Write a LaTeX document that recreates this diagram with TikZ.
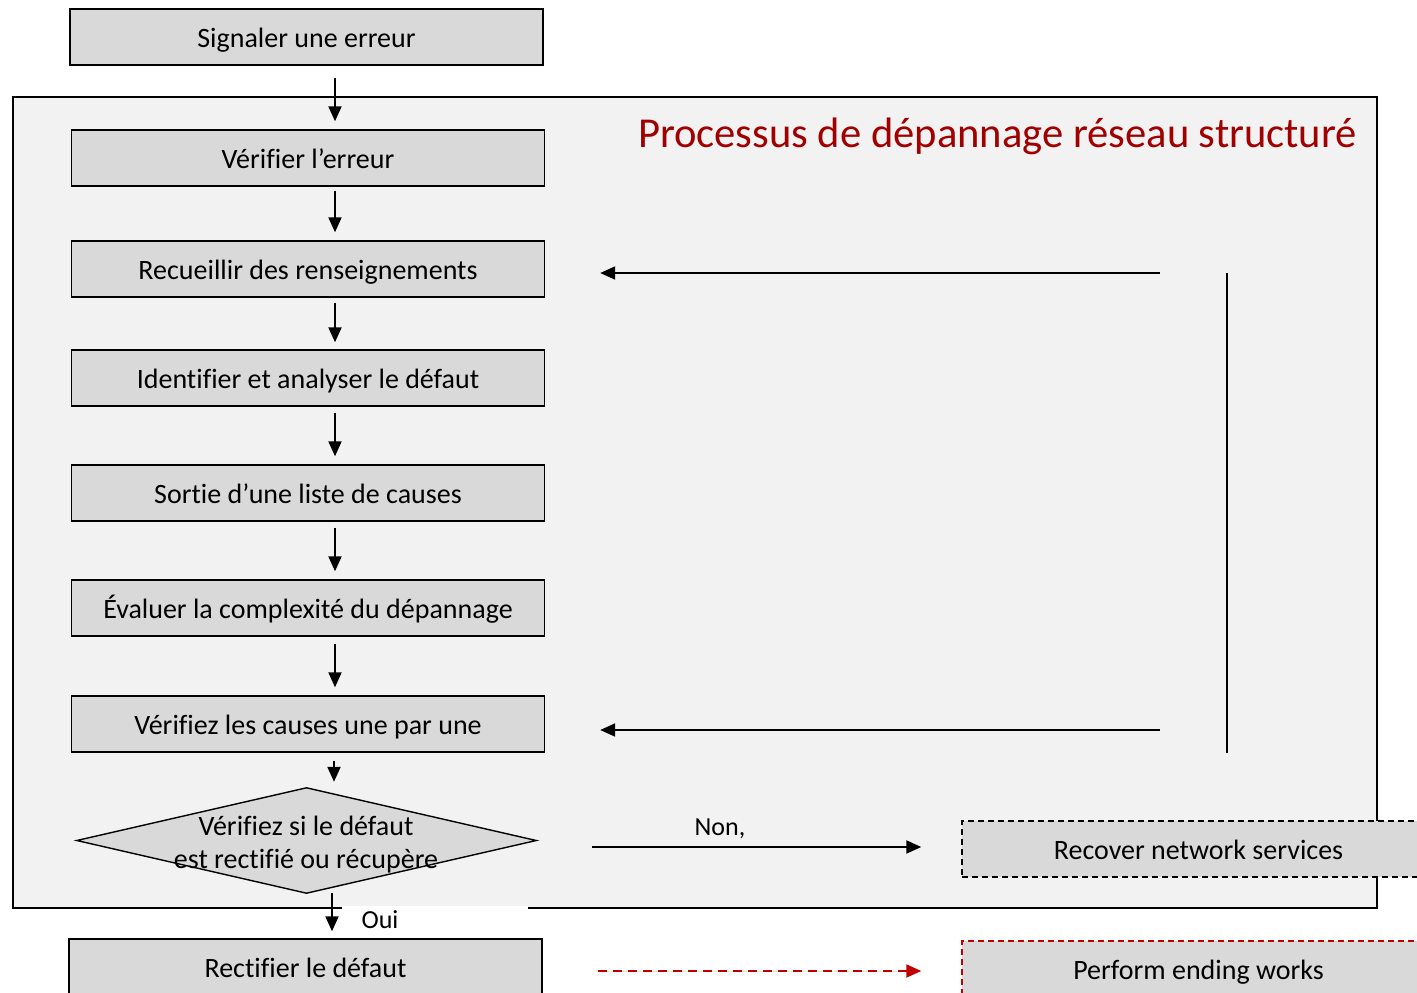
\documentclass[tikz,border=0pt]{standalone}
\usepackage{fontspec}
\setmainfont{Carlito}[Ligatures=NoCommon]
\usetikzlibrary{arrows.meta,calc}
\definecolor{boxfill}{HTML}{D9D9D9}
\definecolor{framefill}{HTML}{F2F2F2}
\definecolor{titlered}{HTML}{A00000}
\definecolor{dashred}{HTML}{C00000}
\begin{document}
\begin{tikzpicture}[x=1pt,y=-1pt,
  stepbox/.style={draw=black, line width=1.4pt, fill=boxfill, minimum width=473pt, minimum height=56pt, inner sep=0pt, text height=24pt, text depth=4pt, font=\fontsize{28}{33}\selectfont},
  arr/.style={-{Triangle[length=15pt,width=13pt]}, line width=2pt},
  lbl/.style={font=\fontsize{26}{30}\selectfont, inner sep=0pt},
  frm/.style={draw=black, line width=1.4pt, fill=framefill, minimum width=1364pt, minimum height=811pt, inner sep=0pt},
]
\useasboundingbox (0,0) rectangle (1417,993);
\clip (0,0) rectangle (1417,993);
\fill[white] (0,0) rectangle (1417,993);
% frame
\node[frm] (frame) at (695,502.5) {};
\node[anchor=east, text=titlered, font=\fontsize{42.6}{50}\selectfont, inner sep=0pt] (title) at (1357,136) {Processus de dépannage réseau structuré};
% boxes
\node[stepbox] (sig) at (306.5,37) {Signaler une erreur};
\node[stepbox] (ver) at (308,158) {Vérifier l’erreur};
\node[stepbox] (rec) at (308,269) {Recueillir des renseignements};
\node[stepbox] (ide) at (308,378) {Identifier et analyser le défaut};
\node[stepbox] (sor) at (308,493) {Sortie d’une liste de causes};
\node[stepbox] (eva) at (308,608) {Évaluer la complexité du dépannage};
\node[stepbox] (vcs) at (308,724) {Vérifiez les causes une par une};
% diamond
\node[minimum width=459pt, minimum height=105pt, inner sep=0pt] (dia) at (306.5,840.5) {};
\draw[line width=1.4pt, fill=boxfill] (dia.north) -- (dia.east) -- (dia.south) -- (dia.west) -- cycle;
\node[font=\fontsize{28}{33}\selectfont, align=center, inner sep=0pt] (diatext) at (306,845) {Vérifiez si le défaut\\est rectifié ou récupère};
% right boxes
\node[stepbox, dash pattern=on 6pt off 4pt] (recv) at (1198.5,849) {Recover network services};
\node[stepbox, draw=dashred, dash pattern=on 6pt off 4pt] (perf) at (1198.5,969) {Perform ending works};
% Oui patch
\fill[white] (342,906) rectangle (528,938);
\node[lbl] (oui) at (380,920) {Oui};
\node[stepbox] (rect) at (305.5,967) {Rectifier le défaut};
% vertical arrows
\coordinate (ax) at (335,0);
\coordinate (ax2) at (334,0);
\coordinate (ax3) at (332,0);
\draw[arr, shorten <=12pt, shorten >=8pt] (sig.south -| ax) -- (ver.north -| ax);
\draw[arr, shorten <=4pt, shorten >=8pt] (ver.south -| ax) -- (rec.north -| ax);
\draw[arr, shorten <=5pt, shorten >=7pt] (rec.south -| ax) -- (ide.north -| ax);
\draw[arr, shorten <=6pt, shorten >=8pt] (ide.south -| ax) -- (sor.north -| ax);
\draw[arr, shorten <=6pt, shorten >=8pt] (sor.south -| ax) -- (eva.north -| ax);
\draw[arr, shorten <=7pt, shorten >=8pt] (eva.south -| ax) -- (vcs.north -| ax);
\draw[arr, shorten <=8pt, shorten >=6pt] (vcs.south -| ax2) -- (dia.north -| ax2);
\draw[arr, shorten >=7pt] (dia.south -| ax3) -- (rect.north -| ax3);
% feedback
\coordinate (fbA) at (1160,273);
\coordinate (fbB) at (1160,730);
\coordinate (vt) at (1227,273);
\coordinate (vb) at (1227,753);
\draw[arr, shorten >=55pt] (fbA) -- (rec.east |- fbA);
\draw[arr, shorten >=55pt] (fbB) -- (vcs.east |- fbB);
\draw[line width=1.6pt] (vt) -- (vb);
% Non arrow
\coordinate (nonS) at (592,847);
\draw[arr, shorten >=40pt] (nonS) -- (recv.west |- nonS);
\node[lbl] (non) at (720,829) {Non,};
% red dashed arrow
\coordinate (redS) at (598,971);
\draw[arr, draw=dashred, fill=dashred, dash pattern=on 9pt off 6pt, shorten >=40pt] (redS) -- (perf.west |- redS);
\end{tikzpicture}
\end{document}
